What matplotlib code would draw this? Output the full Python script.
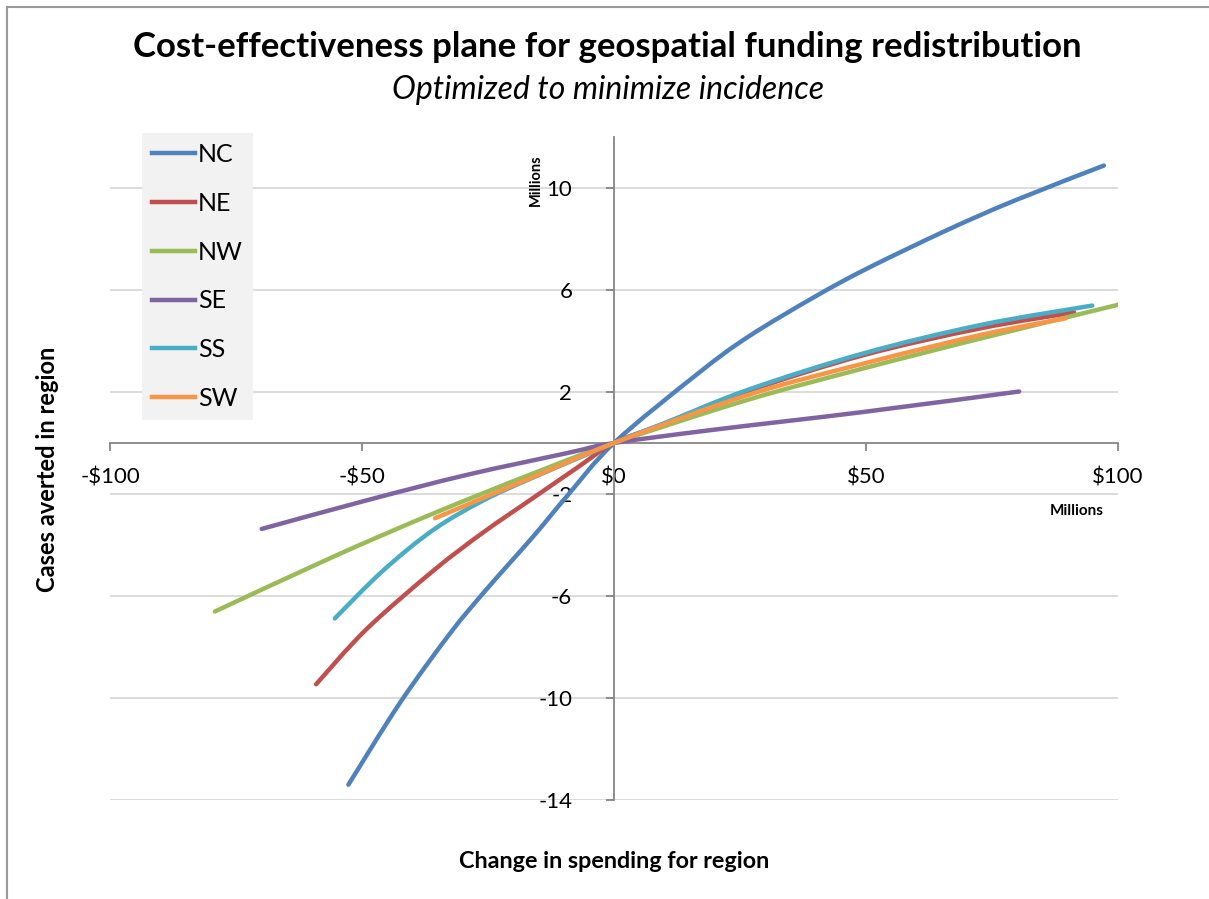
import matplotlib.pyplot as plt
from matplotlib.path import Path
from matplotlib.patches import PathPatch
from matplotlib.lines import Line2D

# spending change ($ millions) and cases averted (millions)
nc_x = [-52.7, -42.5, -32.5, -25.3, -16.0, -9.4, 0, 16.5, 26.5, 39.7, 50.3, 66.1, 79.4, 97.2]
nc_y = [-13.4, -10.2, -7.46, -5.74, -3.66, -2.1, 0, 2.7, 4.15, 5.72, 6.85, 8.35, 9.5, 10.88]

ne_x = [-59.1, -49.1, -35.8, -25.9, -16.0, -7.4, 0, 9.9, 26.5, 49.6, 72.8, 91.3]
ne_y = [-9.46, -7.3, -5.0, -3.5, -2.15, -0.98, 0, 0.75, 2.03, 3.45, 4.5, 5.12]

nw_x = [-79.2, -55.7, -35.8, -16.0, 0, 26.5, 49.6, 72.8, 100]
nw_y = [-6.61, -4.46, -2.76, -1.19, 0, 1.69, 2.93, 4.1, 5.42]

se_x = [-69.9, -49.1, -29.2, -9.4, 0, 19.8, 49.6, 80.4]
se_y = [-3.37, -2.25, -1.25, -0.4, 0, 0.52, 1.22, 2.02]

ss_x = [-55.4, -45.8, -35.8, -25.9, -16.0, 0, 9.9, 26.5, 49.6, 72.8, 94.9]
ss_y = [-6.88, -5.0, -3.4, -2.25, -1.35, 0, 0.77, 2.08, 3.52, 4.63, 5.39]

sw_x = [-35.5, -16.0, 0, 26.5, 49.6, 72.8, 89.6]
sw_y = [-2.95, -1.33, 0, 1.88, 3.12, 4.24, 4.89]

regions = ['NC', 'NE', 'NW', 'SE', 'SS', 'SW']
colors = ['#4F81BD', '#C0504D', '#9BBB59', '#8064A2', '#4BACC6', '#F79646']
series = [(nc_x, nc_y), (ne_x, ne_y), (nw_x, nw_y), (se_x, se_y), (ss_x, ss_y), (sw_x, sw_y)]

x_ticks = [-100, -50, 0, 50, 100]
x_labels = ['-$100', '-$50', '$0', '$50', '$100']
y_ticks = [-14, -10, -6, -2, 2, 6, 10]


def smooth_path(xs, ys):
    # excel-style smoothed line: bezier segments through the points
    verts = [(xs[0], ys[0])]
    codes = [Path.MOVETO]
    n = len(xs)
    for i in range(n - 1):
        x0, y0 = (xs[i - 1], ys[i - 1]) if i > 0 else (xs[i], ys[i])
        x1, y1 = xs[i], ys[i]
        x2, y2 = xs[i + 1], ys[i + 1]
        x3, y3 = (xs[i + 2], ys[i + 2]) if i + 2 < n else (x2, y2)
        c1 = (x1 + (x2 - x0) / 6, y1 + (y2 - y0) / 6)
        c2 = (x2 - (x3 - x1) / 6, y2 - (y3 - y1) / 6)
        verts += [c1, c2, (x2, y2)]
        codes += [Path.CURVE4] * 3
    return Path(verts, codes)


plt.rcParams['font.family'] = ['Lato', 'DejaVu Sans']
plt.rcParams['axes.unicode_minus'] = False

fig = plt.figure(figsize=(12.09, 8.99), dpi=100)
W, H = 1209, 899
ax = fig.add_axes([110 / W, 1 - 800 / H, (1118 - 110) / W, (800 - 137) / H])

# chart frame (top and left edges only show)
fig.add_artist(Line2D([7 / W, 1], [1 - 7 / H, 1 - 7 / H], color='#9a9a9a', lw=1.5))
fig.add_artist(Line2D([7 / W, 7 / W], [0, 1 - 7 / H], color='#9a9a9a', lw=1.5))

for name, c, (xs, ys) in zip(regions, colors, series):
    ax.add_patch(PathPatch(smooth_path(xs, ys), facecolor='none', edgecolor=c,
                           lw=3.2, capstyle='round', joinstyle='round', zorder=3))
    ax.plot([], [], color=c, lw=3.2, label=name)

ax.set_xlim(-100, 100)
ax.set_ylim(-14, 12)

for sp in ['top', 'right']:
    ax.spines[sp].set_visible(False)
ax.spines['left'].set_position(('data', 0))
ax.spines['bottom'].set_position(('data', 0))
for sp in ['left', 'bottom']:
    ax.spines[sp].set_color('#868686')
    ax.spines[sp].set_linewidth(1.3)
    ax.spines[sp].set_zorder(2)

ax.set_xticks(x_ticks)
ax.set_xticklabels(x_labels)
ax.set_yticks(y_ticks)
ax.tick_params(axis='both', colors='#868686', labelcolor='black', labelsize=16,
               length=6, width=1.3, direction='out')
ax.tick_params(axis='x', pad=12)
ax.tick_params(axis='y', pad=24)

ax.yaxis.grid(True, color='#d9d9d9', lw=1.3, zorder=0)
ax.set_axisbelow(True)

leg = ax.legend(loc='upper left', bbox_to_anchor=(142 / W, 1 - 133 / H),
                bbox_transform=fig.transFigure, fontsize=18, frameon=True,
                facecolor='#f2f2f2', edgecolor='none', fancybox=False,
                handlelength=1.7, handletextpad=0.15, labelspacing=1.03,
                borderpad=0.4, borderaxespad=0)
leg.get_frame().set_alpha(1)
leg.set_zorder(5)

fig.text(607 / W, 1 - 47 / H, 'Cost-effectiveness plane for geospatial funding redistribution',
         ha='center', va='center', fontsize=25, fontweight='bold')
fig.text(608 / W, 1 - 90 / H, 'Optimized to minimize incidence',
         ha='center', va='center', fontsize=23, style='italic')
fig.text(48 / W, 1 - 469 / H, 'Cases averted in region', rotation=90,
         ha='center', va='center', fontsize=17, fontweight='bold')
fig.text(614 / W, 1 - 862 / H, 'Change in spending for region',
         ha='center', va='center', fontsize=16.8, fontweight='bold')
fig.text(536 / W, 1 - 180 / H, 'Millions', rotation=90,
         ha='center', va='center', fontsize=10.5, fontweight='bold')
fig.text(1077 / W, 1 - 511 / H, 'Millions',
         ha='center', va='center', fontsize=11, fontweight='bold')

fig.savefig('out.png', dpi=100)
